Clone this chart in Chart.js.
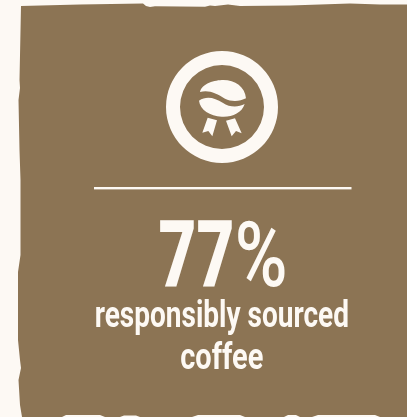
<!DOCTYPE html>
<html>
<head>
<meta charset="utf-8">
<style>html,body{margin:0;padding:0;background:#fdf9f4;overflow:hidden}canvas{display:block}</style>
<script src="https://cdn.jsdelivr.net/npm/chart.js@4"></script>
</head>
<body>
<canvas id="c" width="407" height="417" style="width:407px;height:417px"></canvas>
<script>
const badgeLabels = ['sourced'];
const badgeValues = [100];
const statNumber = ['77'];
const statUnit = ['%'];
const captionLines = ['responsibly sourced', 'coffee'];

const cream = '#fdf9f4', brown = '#8c7454';

function poly(ctx, pts){ctx.beginPath();pts.forEach((p,i)=>i?ctx.lineTo(p[0],p[1]):ctx.moveTo(p[0],p[1]));ctx.closePath();}
function fit(ctx,text,x,y,w){
  const m=ctx.measureText(text);
  const ink=m.actualBoundingBoxRight+m.actualBoundingBoxLeft;
  ctx.save();ctx.translate(x,y);ctx.scale(w/ink,1);ctx.textAlign='left';
  ctx.fillText(text,m.actualBoundingBoxLeft,0);ctx.restore();
}

const art = {
  id:'art',
  beforeDraw(chart){
    const ctx = chart.ctx;
    ctx.save();
    ctx.fillStyle = cream; ctx.fillRect(0,0,407,417);
    ctx.fillStyle = brown;
    poly(ctx,[[21,6],[80,4.5],[143,3.5],[146,6],[150,7],[155,6.2],[205,6.8],[210,5.5],[215,6],[228,4.5],[240,6],[290,5.5],[350,3.5],[380,4.5],[407,4.5],
      [407,417],[380,417],[375,415],[318,415],[312,417],[300,417],[296,415],[288,415],[284,417],[245,417],[240,415],[198,415],[192,417],[140,417],[136,415.5],[124,415.5],[120,417],[105,417],[100,415],[66,415],[62,417],[22,417],
      [20,405],[18.5,380],[21,368],[20,360],[18,340],[18,272],[20.5,255],[20.5,180],[19.5,150],[18.5,100],[20,88],[19.5,80]]);
    ctx.fill();
    ctx.fillStyle = cream;
    ctx.fillRect(94,187,257.5,2.4);
    ctx.restore();
  },
  afterDraw(chart){
    const ctx = chart.ctx;
    ctx.save();
    ctx.fillStyle = cream;
    const z=(x,y)=>[140+x/3,30+y/3];
    ctx.beginPath();
    ctx.moveTo(...z(180,186));
    ctx.bezierCurveTo(...z(185,160),...z(225,150),...z(250,150));
    ctx.bezierCurveTo(...z(285,150),...z(315,170),...z(318,205));
    ctx.bezierCurveTo(...z(300,214),...z(275,216),...z(255,206));
    ctx.bezierCurveTo(...z(230,190),...z(205,178),...z(180,186));
    ctx.closePath();ctx.fill();
    ctx.beginPath();
    ctx.moveTo(...z(177,212));
    ctx.bezierCurveTo(...z(200,196),...z(225,204),...z(248,218));
    ctx.bezierCurveTo(...z(270,233),...z(295,232),...z(314,222));
    ctx.bezierCurveTo(...z(305,250),...z(275,262),...z(245,260));
    ctx.bezierCurveTo(...z(210,258),...z(180,240),...z(177,212));
    ctx.closePath();ctx.fill();
    poly(ctx,[z(203,263),z(231,271),z(217,319),z(205,303),z(187,308)]);ctx.fill();
    poly(ctx,[z(258,272),z(285,265),z(305,310),z(288,303),z(275,319)]);ctx.fill();
    ctx.textBaseline='alphabetic';
    ctx.font='900 92px Roboto';
    fit(ctx,statNumber[0],160,285.5,72);
    ctx.font='500 90px Roboto';
    fit(ctx,statUnit[0],238,285.5,47);
    ctx.font='700 36px Roboto';
    fit(ctx,captionLines[0],95.5,327,252.5);
    fit(ctx,captionLines[1],181,369,82);
    ctx.restore();
  }
};

new Chart(document.getElementById('c'),{
  type:'doughnut',
  data:{labels:badgeLabels,datasets:[{data:badgeValues,backgroundColor:[cream],borderWidth:0}]},
  options:{
    responsive:false,animation:false,devicePixelRatio:1,cutout:'75%',
    layout:{padding:{left:166,top:51,right:129,bottom:254}},
    plugins:{legend:{display:false},tooltip:{enabled:false},title:{display:false}}
  },
  plugins:[art]
});
</script>
</body>
</html>
